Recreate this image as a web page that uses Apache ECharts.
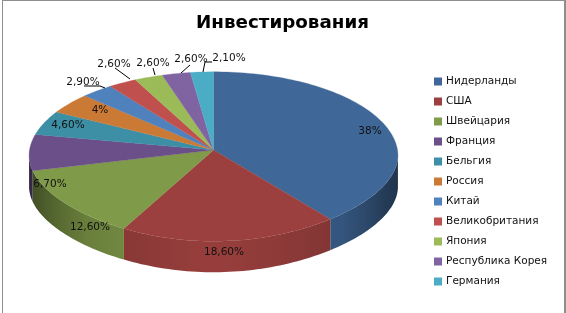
<!DOCTYPE html>
<html><head><meta charset="utf-8">
<style>html,body{margin:0;padding:0;background:#fff}
#frame{position:absolute;left:2px;top:0;width:561px;height:313px;border:solid #8e8e8e;border-width:1px 2px 0 1px;box-sizing:content-box}
#c{position:absolute;left:0;top:0;width:566px;height:313px}</style>
<script src="https://cdn.jsdelivr.net/npm/echarts@6/dist/echarts.min.js"></script>
</head><body><div id="c"></div><div id="frame"></div>
<script>
const titleText = 'Инвестирования';
const categories = ['Нидерланды','США','Швейцария','Франция','Бельгия','Россия','Китай','Великобритания','Япония','Республика Корея','Германия'];
const values = [38,18.6,12.6,6.7,4.6,4,2.9,2.6,2.6,2.6,2.1];
const valueLabels = ['38%','18,60%','12,60%','6,70%','4,60%','4%','2,90%','2,60%','2,60%','2,60%','2,10%'];
const colors = ['#3f6797','#9b403e','#7f9a48','#6a4f88','#3d8fa6','#cb7a36','#4f81bd','#c0504d','#9bbb59','#8064a2','#4bacc6'];

// Presentation geometry of the tilted disc (perspective-like projection) and its label layout
const G = {cx:213.5, cy:150, r:184, ry:84.2, k:0.077, depth:31};
const labelAt = [[370,131],[224,252],[90,227],[50,184],[68,125],[100,110],[83,82],[114,64],[153,63],[191,59],[229,58]];
const leaders = {
  6:[[84,86],[100,86],[105,88]],
  7:[[115,68],[130,79]],
  8:[[153,68],[155,75]],
  9:[[190,65],[181,73]],
  10:[[212,62],[205,62],[203,72]]
};
const total = values.reduce((a,b)=>a+b,0);
const rad = d=>d*Math.PI/180;
function pt(a,dy){const X=Math.cos(a),Y=Math.sin(a),w=1-G.k*Y;
  const fx=Y<0?1/w:1+G.k*Y*(1-Y/0.77);
  return [G.cx+G.r*X*fx, G.cy+G.ry*Y/w+(dy||0)];}
function arc(a0,a1,dy){const n=Math.max(2,Math.ceil(Math.abs(a1-a0)/rad(1.5)));const r=[];
  for(let i=0;i<=n;i++)r.push(pt(a0+(a1-a0)*i/n,dy));return r;}
function shade(hex,f){const n=parseInt(hex.slice(1),16);
  const ch=[n>>16&255,n>>8&255,n&255].map(v=>Math.round(v*f));return `rgb(${ch.join(',')})`;}
const shadeCurve=[[0,.98],[.5,.88],[.7,.82],[.85,.68],[1,.5]];
function factor(t){for(let i=1;i<shadeCurve.length;i++){const p=shadeCurve[i-1],q=shadeCurve[i];
  if(t<=q[0])return p[1]+(q[1]-p[1])*(t-p[0])/(q[0]-p[0]);}return .5;}
function sideFill(col,x0,x1){const st=[];for(let i=0;i<=10;i++){const x=x0+(x1-x0)*i/10;
  st.push({offset:i/10,color:shade(col,factor(Math.min(1,Math.abs(x-G.cx)/G.r)))});}
  return {type:'linear',x:x0,y:0,x2:x1,y2:0,global:true,colorStops:st};}

function renderSlice(params,api){
  const i=params.seriesIndex, v=api.value(0);
  let before=0; for(let k=0;k<i;k++)before+=values[k];
  const a0=rad(-90+before/total*360), a1=rad(-90+(before+v)/total*360);
  const children=[];
  const edge=Math.asin(G.k);
  const s0=Math.max(a0,edge), s1=Math.min(a1,Math.PI-edge);
  if(s1>s0){
    const up=arc(s0,s1,0), low=arc(s1,s0,G.depth), poly=up.concat(low);
    const xs=poly.map(p=>p[0]); const x0=Math.min(...xs), x1=Math.max(...xs);
    children.push({type:'polygon',z2:1,shape:{points:poly},style:{fill:sideFill(colors[i],x0,x1)}});
  }
  const top=[[G.cx,G.cy]].concat(arc(a0,a1,0));
  children.push({type:'polygon',z2:2,shape:{points:top},style:{fill:colors[i],stroke:colors[i],lineWidth:.3}});
  if(leaders[i])children.push({type:'polyline',z2:3,shape:{points:leaders[i]},style:{stroke:'#000',lineWidth:1,fill:null}});
  children.push({type:'text',z2:4,style:{text:valueLabels[i],x:labelAt[i][0],y:labelAt[i][1],align:'center',verticalAlign:'middle',
    font:'10.5px "DejaVu Sans"',fill:'#111'}});
  return {type:'group',children};
}
const chart=echarts.init(document.getElementById('c'),null,{renderer:'canvas'});
chart.setOption({
  animation:false,
  title:{text:titleText,left:282.5,top:14,padding:0,textAlign:'center',textStyle:{fontFamily:'"DejaVu Sans"',fontWeight:'bold',fontSize:18.3,color:'#000'}},
  legend:{orient:'vertical',left:434,top:75,padding:0,itemWidth:8,itemHeight:8,itemGap:7,icon:'rect',selectedMode:false,
    textStyle:{fontFamily:'"DejaVu Sans"',fontSize:10.5,color:'#111',padding:[0,0,0,-1],lineHeight:13},data:categories},
  series:categories.map((name,i)=>({type:'custom',name,coordinateSystem:'none',renderItem:renderSlice,
    itemStyle:{color:colors[i]},data:[[values[i]]],silent:true}))
});
</script></body></html>
